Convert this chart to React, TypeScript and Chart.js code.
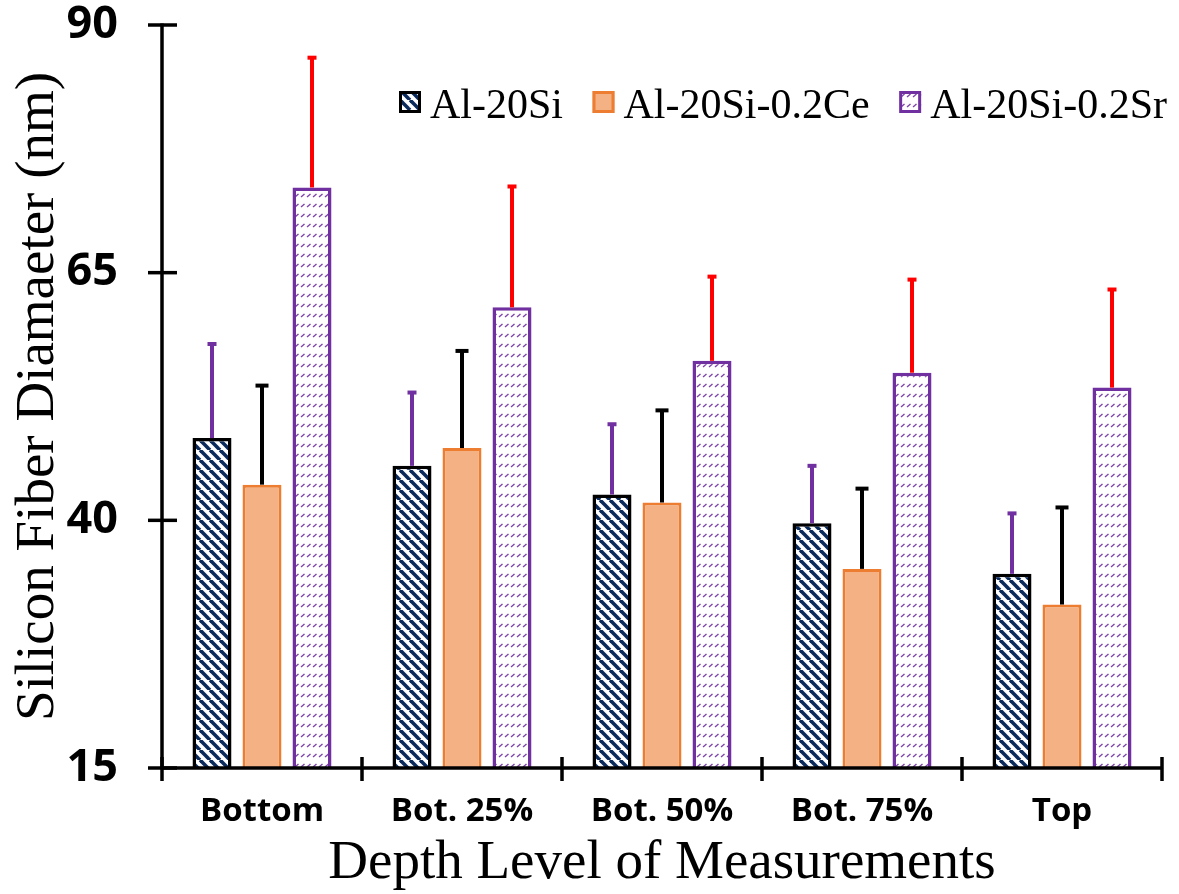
import React, { useEffect, useRef } from "react";
import { Chart, registerables } from "chart.js";

Chart.register(...registerables);

const categories = ["Bottom", "Bot. 25%", "Bot. 50%", "Bot. 75%", "Top"];
const seriesNames = ["Al-20Si", "Al-20Si-0.2Ce", "Al-20Si-0.2Sr"];
const siValues = [48.3, 45.5, 42.6, 39.7, 34.6];
const siErrors = [9.5, 7.4, 7.1, 5.8, 6.1];
const ceValues = [43.6, 47.3, 41.8, 35.1, 31.5];
const ceErrors = [10.0, 9.8, 9.3, 8.1, 9.8];
const srValues = [73.6, 61.5, 56.1, 54.9, 53.4];
const srErrors = [13.1, 12.2, 8.5, 9.4, 9.9];
const yTickValues = [15, 40, 65, 90];
const xTitle = "Depth Level of Measurements";
const yTitle = "Silicon Fiber Diamaeter (nm)";

const errorSets = [siErrors, ceErrors, srErrors];
const errorColors = ["#7030A0", "#000000", "#FF0000"];
const capWidths = [9, 13, 9];

const SERIF = "'Liberation Serif', serif";
const SANS = "'Open Sans', sans-serif";

function stripePattern(): CanvasPattern | string {
  const s = 10;
  const c = document.createElement("canvas");
  c.width = s;
  c.height = s;
  const g = c.getContext("2d");
  if (!g) return "#0B2A5C";
  g.fillStyle = "#ffffff";
  g.fillRect(0, 0, s, s);
  g.strokeStyle = "#0B2A5C";
  g.lineWidth = 3.6;
  for (const x0 of [-s, 0, s]) {
    g.beginPath();
    g.moveTo(x0, 0);
    g.lineTo(x0 + s, s);
    g.stroke();
  }
  return g.createPattern(c, "repeat") || "#0B2A5C";
}

function dashPattern(): CanvasPattern | string {
  const c = document.createElement("canvas");
  c.width = 6;
  c.height = 10;
  const g = c.getContext("2d");
  if (!g) return "#ffffff";
  g.fillStyle = "#ffffff";
  g.fillRect(0, 0, 6, 10);
  g.strokeStyle = "rgba(112,48,160,0.9)";
  g.lineWidth = 1.4;
  g.beginPath();
  g.moveTo(1, 7);
  g.lineTo(4.5, 4);
  g.stroke();
  return g.createPattern(c, "repeat") || "#ffffff";
}

const axesPlugin = {
  id: "crossAxes",
  afterDatasetsDraw(chart: any) {
    const ctx = chart.ctx;
    const x = chart.scales.x;
    const y = chart.scales.y;
    const left = x.left;
    const right = x.right;
    const top = y.top;
    const bottom = y.bottom;
    ctx.save();
    ctx.lineCap = "butt";
    chart.data.datasets.forEach((ds: any, di: number) => {
      const meta = chart.getDatasetMeta(di);
      meta.data.forEach((el: any, i: number) => {
        const v = ds.data[i] + errorSets[di][i];
        const yt = y.getPixelForValue(v);
        ctx.strokeStyle = errorColors[di];
        ctx.lineWidth = 4;
        ctx.beginPath();
        ctx.moveTo(el.x, el.y);
        ctx.lineTo(el.x, yt);
        ctx.stroke();
        ctx.beginPath();
        ctx.moveTo(el.x - capWidths[di] / 2, yt);
        ctx.lineTo(el.x + capWidths[di] / 2, yt);
        ctx.stroke();
      });
    });
    ctx.strokeStyle = "#000";
    ctx.lineWidth = 3.5;
    ctx.beginPath();
    ctx.moveTo(left, top - 1.5);
    ctx.lineTo(left, bottom);
    ctx.stroke();
    ctx.beginPath();
    ctx.moveTo(left, bottom);
    ctx.lineTo(right, bottom);
    ctx.stroke();
    y.ticks.forEach((t: any) => {
      const py = y.getPixelForValue(t.value);
      ctx.beginPath();
      ctx.moveTo(left - 14, py);
      ctx.lineTo(left + 15, py);
      ctx.stroke();
    });
    const n = categories.length;
    const step = x.getPixelForValue(1) - x.getPixelForValue(0);
    for (let i = 0; i <= n; i++) {
      const px = x.getPixelForValue(0) - step / 2 + i * step;
      ctx.beginPath();
      ctx.moveTo(px, bottom - 11);
      ctx.lineTo(px, bottom + 13);
      ctx.stroke();
    }
    ctx.restore();
  },
};

const legendPlugin = {
  id: "customLegend",
  afterDraw(chart: any) {
    const ctx = chart.ctx;
    ctx.save();
    ctx.font = `42px ${SERIF}`;
    const box = 22;
    const gapText = 9;
    const startX = 399;
    const endX = 1167;
    const widths = chart.data.datasets.map((ds: any) => ctx.measureText(ds.label).width);
    const total = widths.reduce((a: number, w: number) => a + w + box + gapText, 0);
    const itemGap = (endX - startX - total) / (widths.length - 1);
    let cx = startX;
    const boxTop = 91;
    const baseline = 118;
    chart.data.datasets.forEach((ds: any, i: number) => {
      ctx.fillStyle = ds.backgroundColor;
      ctx.fillRect(cx, boxTop, box, box);
      ctx.strokeStyle = ds.borderColor;
      ctx.lineWidth = 3;
      ctx.strokeRect(cx + 1.5, boxTop + 1.5, box - 3, box - 3);
      ctx.fillStyle = "#000";
      ctx.textBaseline = "alphabetic";
      ctx.textAlign = "left";
      ctx.fillText(ds.label, cx + box + gapText, baseline);
      cx += box + gapText + widths[i] + itemGap;
    });
    ctx.restore();
  },
};

export default function App() {
  const ref = useRef<HTMLCanvasElement | null>(null);
  useEffect(() => {
    document.body.style.margin = "0";
    const canvas = ref.current;
    if (!canvas) return;
    const chart = new Chart(canvas, {
      type: "bar",
      data: {
        labels: categories,
        datasets: [
          {
            label: seriesNames[0],
            data: siValues,
            backgroundColor: stripePattern() as any,
            borderColor: "#000000",
            borderWidth: 3.5,
            borderSkipped: false,
          },
          {
            label: seriesNames[1],
            data: ceValues,
            backgroundColor: "#F4B183",
            borderColor: "#ED7D31",
            borderWidth: 3,
            borderSkipped: false,
          },
          {
            label: seriesNames[2],
            data: srValues,
            backgroundColor: dashPattern() as any,
            borderColor: "#7030A0",
            borderWidth: 3.5,
            borderSkipped: false,
          },
        ],
      },
      options: {
        responsive: false,
        animation: false,
        events: [],
        layout: { padding: { top: 25, right: 17, left: 0, bottom: 0 } },
        datasets: {
          bar: { categoryPercentage: 0.75, barPercentage: 0.78 },
        },
        plugins: {
          legend: { display: false },
          tooltip: { enabled: false },
        },
        scales: {
          x: {
            grid: { display: false, drawTicks: false },
            border: { display: false },
            ticks: {
              color: "#000",
              padding: 24,
              font: { family: SANS, size: 33, weight: "bold" },
              maxRotation: 0,
              autoSkip: false,
            },
            title: {
              display: true,
              text: xTitle,
              color: "#000",
              font: { family: SERIF, size: 55 },
              padding: { top: 0, bottom: -3 },
            },
            afterFit(scale: any) {
              scale.height = 126;
              scale.paddingLeft = 0;
              scale.paddingRight = 0;
            },
          },
          y: {
            min: 15,
            max: 90,
            afterBuildTicks(scale: any) {
              scale.ticks = yTickValues.map((v) => ({ value: v }));
            },
            grid: { display: false, drawTicks: false },
            border: { display: false },
            ticks: {
              color: "#000",
              padding: 44,
              font: { family: SANS, size: 45, weight: "bold" },
            },
            title: {
              display: true,
              text: yTitle,
              color: "#000",
              font: { family: SERIF, size: 55 },
              padding: { top: 6, bottom: 0 },
            },
            afterFit(scale: any) {
              scale.width = 162;
              scale.paddingTop = 0;
              scale.paddingBottom = 0;
            },
          },
        },
      },
      plugins: [axesPlugin, legendPlugin],
    });
    return () => chart.destroy();
  }, []);
  return (
    <div style={{ width: 1179, height: 894, background: "#fff" }}>
      <canvas ref={ref} width={1179} height={894} />
    </div>
  );
}
